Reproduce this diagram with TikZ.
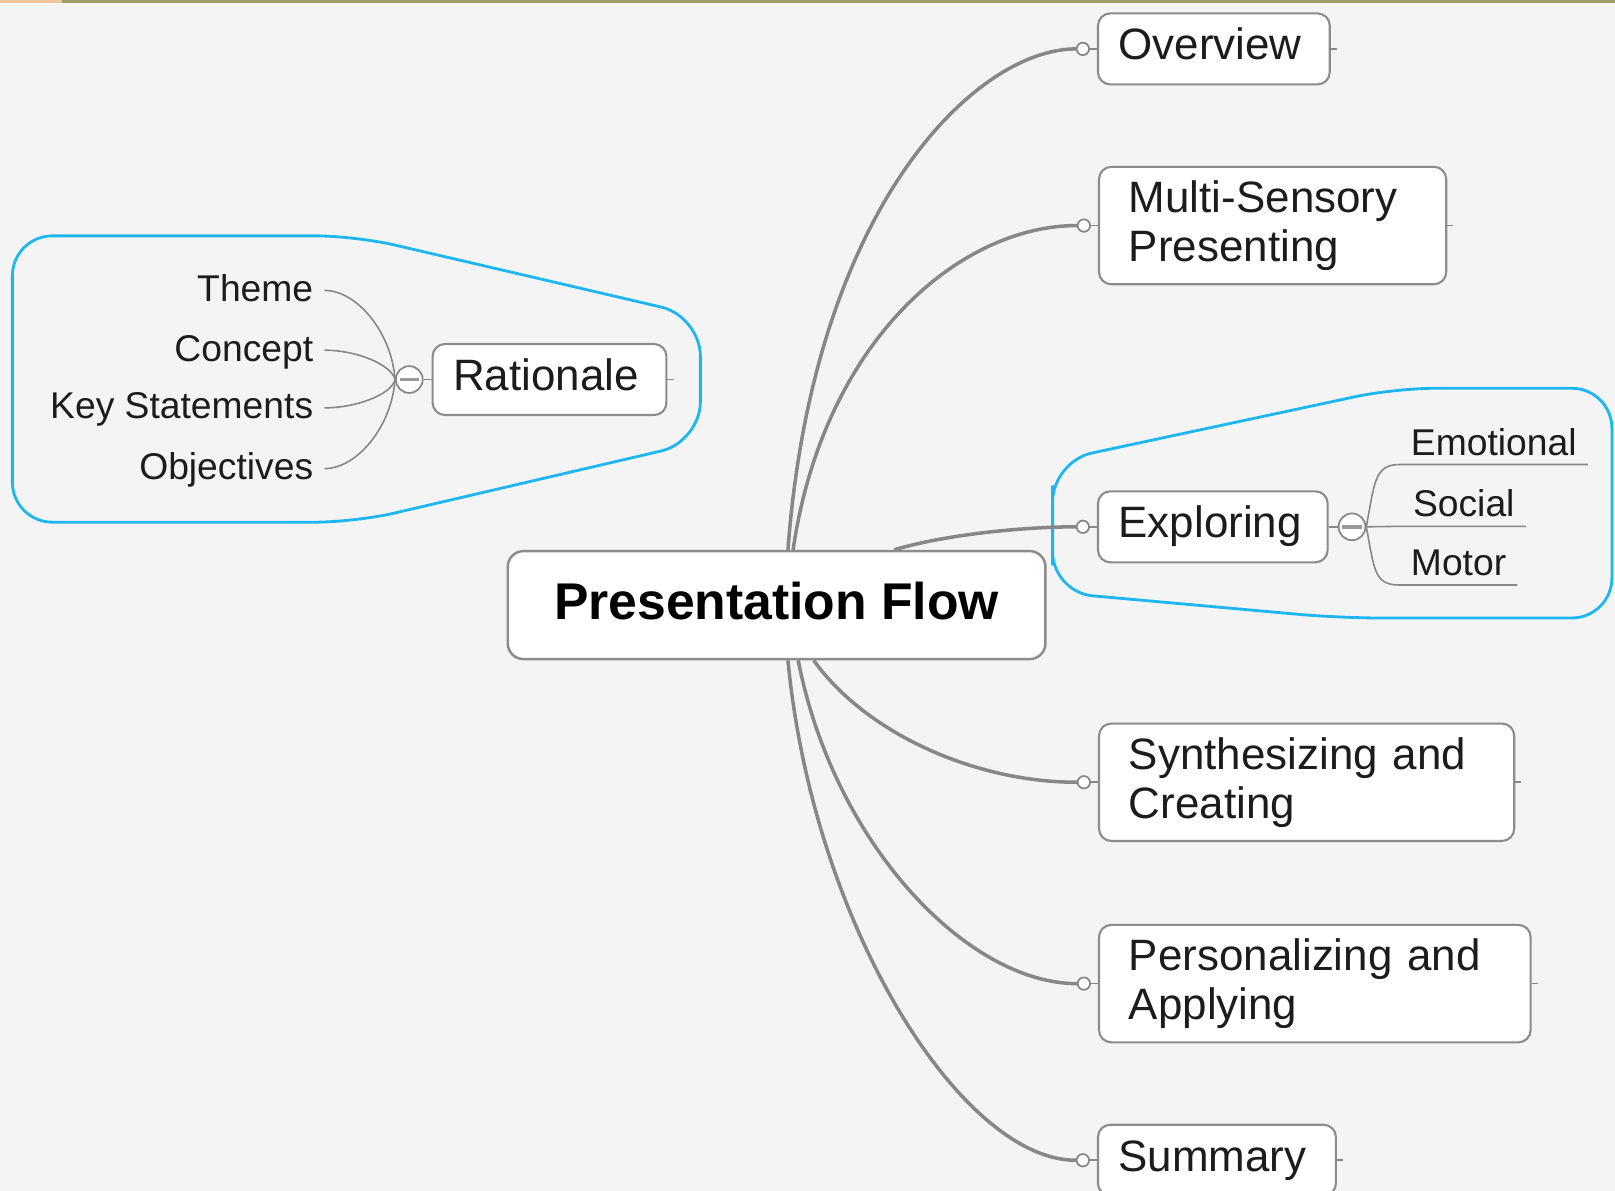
\documentclass[tikz,border=0pt]{standalone}
\usepackage{fontspec}
\setmainfont{Liberation Sans}
\usetikzlibrary{positioning,calc,backgrounds}
\definecolor{paper}{HTML}{F4F4F4}
\definecolor{branch}{HTML}{878787}
\definecolor{frame}{HTML}{1EB6F0}
\definecolor{ink}{HTML}{1C1C1C}
\definecolor{edge}{HTML}{8C8C8C}
\tikzset{topic/.style={draw=edge, fill=white, rounded corners=3.5pt, line width=0.6pt, text=ink, align=left, anchor=west, inner ysep=2pt, font=\fontsize{12.5}{14}\selectfont}}
\tikzset{single/.style={topic, minimum height=0.71cm, inner xsep=0.206cm, text height=0.8em, text depth=0.18em}}
\tikzset{double/.style={topic, minimum height=1.174cm, inner xsep=0.299cm}}
\tikzset{hub/.style={draw=edge, fill=white, rounded corners=4.5pt, line width=0.7pt, text=black, minimum width=5.377cm, minimum height=1.08cm, text height=1em, text depth=0.18em, font=\fontsize{14.7}{16}\selectfont\bfseries}}
\tikzset{kid/.style={text=ink, inner xsep=3pt, inner ysep=0.7pt, text height=0.8em, text depth=0.18em, font=\fontsize{10.6}{12}\selectfont}}
\tikzset{knob/.style={circle, draw=branch, fill=white, line width=0.5pt, minimum size=0.124cm, inner sep=0pt}}
\tikzset{fold/.style={circle, draw=branch, fill=white, line width=0.5pt, minimum size=0.268cm, inner sep=0pt}}
\tikzset{branchline/.style={draw=branch, line width=1pt}}
\tikzset{twig/.style={draw=branch, line width=0.45pt}}
\tikzset{group/.style={draw=frame, line width=0.8pt, rounded corners=0.4cm}}

\begin{document}
\begin{tikzpicture}[x=0.0103cm, y=-0.0103cm]
  \useasboundingbox (0,0) rectangle (1568,1156);

  \node[hub] (pf) at (754,587.5) {Presentation Flow};
  \node[single, text width=1.906cm] (ov) at (1065,47.5) {Overview};
  \node[double, text width=2.874cm] (ms) at (1066,219) {Multi-Sensory\\Presenting};
  \node[single, text width=1.885cm] (ex) at (1065,511.5) {Exploring};
  \node[double, text width=3.554cm] (sc) at (1066,759.5) {Synthesizing and\\Creating};
  \node[double, text width=3.718cm] (pa) at (1066,955) {Personalizing and\\Applying};
  \node[single, text width=1.967cm] (su) at (1065,1126.5) {Summary};
  \node[single, text width=1.926cm] (ra) at (419,368.5) {Rationale};

  \foreach \n in {ov,ms,ex,sc,pa,su}
    \node[knob, left=0.07cm of \n] (\n-k) {};
  \node[fold, left=0.08cm of ra] (ra-f) {\color{gray!80}\rule{5.5pt}{1pt}};
  \node[fold, right=0.09cm of ex] (ex-f) {\color{gray!80}\rule{5.5pt}{1pt}};

  % rationale
  \node[kid, anchor=east] (th) at (315,282) {Theme};
  \node[kid, anchor=east] (co) at (315,340) {Concept};
  \node[kid, anchor=east] (ks) at (315,396) {Key Statements};
  \node[kid, anchor=east] (ob) at (315,455) {Objectives};
  \foreach \k/\d in {th/-45, co/-14, ks/14, ob/45}
    \draw[twig] (\k.east) .. controls +(32,0) and +(-3,\d) .. (ra-f.west);

  % exploring
  \node[kid, anchor=south west] (emo) at (1359,451) {Emotional};
  \node[kid, anchor=south west] (soc) at (1361,511) {Social};
  \node[kid, anchor=south west] (mot) at (1359,568) {Motor};
  \draw[twig] (ex-f.east) .. controls +(8,-42) and +(-25,0) .. (emo.south west) -- (emo.south east);
  \draw[twig] (ex-f.east) -- (soc.south west) -- (soc.south east);
  \draw[twig] (ex-f.east) .. controls +(8,42) and +(-25,0) .. (mot.south west) -- (mot.south east);

  \foreach \n in {ov,ms,ex,sc,pa,su}
    \draw[twig] (\n-k.east) -- (\n.west);
  \draw[twig] (ra-f.east) -- (ra.west);
  \draw[twig] (ex.east) -- (ex-f.west);
  \foreach \n in {ov,ms,sc,pa,su,ra}
    \draw[twig] (\n.east) -- ++(6,0);

  \begin{scope}[on background layer]
    \fill[paper] (0,0) rectangle (1568,1156);
    \fill[orange!45!brown!45] (0,0) rectangle (60,3);
    \fill[black!45!olive!60] (60,0) rectangle (1568,2.5);
    \draw[group] (12,368) -- (12,229) -- (345,229) -- (680,307) -- (680,429) -- (345,507) -- (12,507) -- cycle;
    \draw[group] (1022,510) -- (1022,448) -- (1354,377) -- (1565,377) -- (1565,600) -- (1300,600) -- (1022,575) -- cycle;
    \draw[branchline] ($(pf.north)+(11,0)$) .. controls +(25,-335) and +(-96,0) .. (ov-k.west);
    \draw[branchline] ($(pf.north)+(16,0)$) .. controls +(30,-205) and +(-112,0) .. (ms-k.west);
    \draw[branchline] ($(pf.north)+(114,0)$) .. controls +(50,-15) and +(-50,0) .. (ex-k.west);
    \draw[branchline] ($(pf.south)+(36,0)$) .. controls +(50,70) and +(-100,0) .. (sc-k.west);
    \draw[branchline] ($(pf.south)+(21,0)$) .. controls +(35,180) and +(-105,0) .. (pa-k.west);
    \draw[branchline] ($(pf.south)+(11,0)$) .. controls +(25,260) and +(-110,0) .. (su-k.west);
  \end{scope}
\end{tikzpicture}
\end{document}
